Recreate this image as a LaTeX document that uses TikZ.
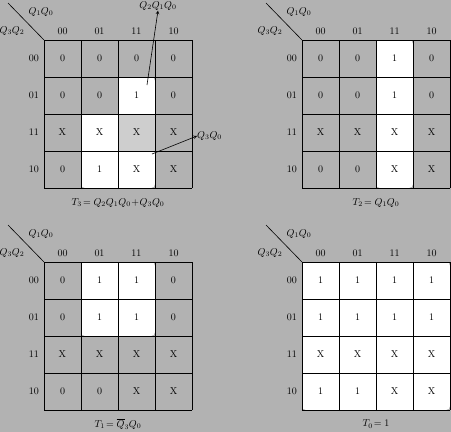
\documentclass[tikz,border=0pt]{standalone}
\usepackage{amsmath}
\usepackage{tikz}
\usetikzlibrary{arrows,positioning}
\definecolor{kmbg}{RGB}{178,178,178}
\definecolor{kmoverlap}{RGB}{206,206,206}
\tikzstyle{arrow} = [->,>=stealth,line width=0.6pt]
\tikzstyle{gridline} = [line width=1pt]
\tikzstyle{diagline} = [line width=0.6pt]
\tikzstyle{loopbox} = [fill=white, rounded corners=4pt]
\tikzstyle{cellval} = [inner sep=0pt]
\tikzstyle{hdr} = [inner sep=0pt]
\tikzstyle{eqn} = [inner sep=1pt]

\begin{document}
\begin{tikzpicture}[x=1pt,y=-1pt]
\useasboundingbox (0,0) rectangle (451,432);
\fill[kmbg] (0,0) rectangle (451,432);

% T3 map
\begin{scope}[shift={(44,40)}, name prefix=m1-]
\fill[loopbox] (74,37) rectangle (111,111);
\fill[loopbox] (37,74) rectangle (111,148);
\fill[kmoverlap] (74,74) rectangle (111,111);
\foreach \i in {0,...,4} {
  \draw[gridline] (\i*37,0) -- (\i*37,148);
  \draw[gridline] (0,\i*37) -- (148,\i*37);
}
\draw[diagline] (-36,-37) -- (0,0);
\node[hdr] (cols) at (-3,-28) {$Q_1Q_0$};
\node[hdr] (rows) at (-32,-9) {$Q_3Q_2$};
\foreach \lab [count=\c] in {00,01,11,10} {
  \node[hdr] (col\c) at (\c*37-18.5,-9) {\lab};
  \node[hdr, anchor=east] (row\c) at (-5,\c*37-18.5) {\lab};
}
\foreach \vals [count=\r] in {{0,0,0,0},{0,0,1,0},{X,X,X,X},{0,1,X,X}}
  \foreach \v [count=\c] in \vals
    \node[cellval] (c\r\c) at (\c*37-18.5,\r*37-18.5) {\v};
\coordinate (p1) at (103,45);
\coordinate (p2) at (108,114);
\node[hdr] (lbl1) at (114,-34) {$Q_2Q_1Q_0$};
\node[hdr, anchor=west] (lbl2) at (153,96) {$Q_3Q_0$};
\draw[arrow] (p1) -- (lbl1.south);
\draw[arrow] (p2) -- (lbl2.west);
\node[eqn] (eq) at (74,163) {$T_3\!=Q_2Q_1Q_0\!+\!Q_3Q_0$};
\end{scope}

% T2 map
\begin{scope}[shift={(302,40)}, name prefix=m2-]
\fill[loopbox] (74,0) rectangle (111,148);
\foreach \i in {0,...,4} {
  \draw[gridline] (\i*37,0) -- (\i*37,148);
  \draw[gridline] (0,\i*37) -- (148,\i*37);
}
\draw[diagline] (-36,-37) -- (0,0);
\node[hdr] (cols) at (-3,-28) {$Q_1Q_0$};
\node[hdr] (rows) at (-32,-9) {$Q_3Q_2$};
\foreach \lab [count=\c] in {00,01,11,10} {
  \node[hdr] (col\c) at (\c*37-18.5,-9) {\lab};
  \node[hdr, anchor=east] (row\c) at (-5,\c*37-18.5) {\lab};
}
\foreach \vals [count=\r] in {{0,0,1,0},{0,0,1,0},{X,X,X,X},{0,0,X,X}}
  \foreach \v [count=\c] in \vals
    \node[cellval] (c\r\c) at (\c*37-18.5,\r*37-18.5) {\v};
\node[eqn] (eq) at (74,163) {$T_2\!=Q_1Q_0$};
\end{scope}

% T1 map
\begin{scope}[shift={(44,262)}, name prefix=m3-]
\fill[loopbox] (37,0) rectangle (111,74);
\foreach \i in {0,...,4} {
  \draw[gridline] (\i*37,0) -- (\i*37,148);
  \draw[gridline] (0,\i*37) -- (148,\i*37);
}
\draw[diagline] (-36,-37) -- (0,0);
\node[hdr] (cols) at (-3,-28) {$Q_1Q_0$};
\node[hdr] (rows) at (-32,-9) {$Q_3Q_2$};
\foreach \lab [count=\c] in {00,01,11,10} {
  \node[hdr] (col\c) at (\c*37-18.5,-9) {\lab};
  \node[hdr, anchor=east] (row\c) at (-5,\c*37-18.5) {\lab};
}
\foreach \vals [count=\r] in {{0,1,1,0},{0,1,1,0},{X,X,X,X},{0,0,X,X}}
  \foreach \v [count=\c] in \vals
    \node[cellval] (c\r\c) at (\c*37-18.5,\r*37-18.5) {\v};
\node[eqn] (eq) at (74,162) {$T_1\!=\overline{Q}_3Q_0$};
\end{scope}

% T0 map
\begin{scope}[shift={(302,262)}, name prefix=m4-]
\fill[loopbox] (0,0) rectangle (148,148);
\foreach \i in {0,...,4} {
  \draw[gridline] (\i*37,0) -- (\i*37,148);
  \draw[gridline] (0,\i*37) -- (148,\i*37);
}
\draw[diagline] (-36,-37) -- (0,0);
\node[hdr] (cols) at (-3,-28) {$Q_1Q_0$};
\node[hdr] (rows) at (-32,-9) {$Q_3Q_2$};
\foreach \lab [count=\c] in {00,01,11,10} {
  \node[hdr] (col\c) at (\c*37-18.5,-9) {\lab};
  \node[hdr, anchor=east] (row\c) at (-5,\c*37-18.5) {\lab};
}
\foreach \vals [count=\r] in {{1,1,1,1},{1,1,1,1},{X,X,X,X},{1,1,X,X}}
  \foreach \v [count=\c] in \vals
    \node[cellval] (c\r\c) at (\c*37-18.5,\r*37-18.5) {\v};
\node[eqn] (eq) at (74,162) {$T_0\!=1$};
\end{scope}
\end{tikzpicture}
\end{document}
